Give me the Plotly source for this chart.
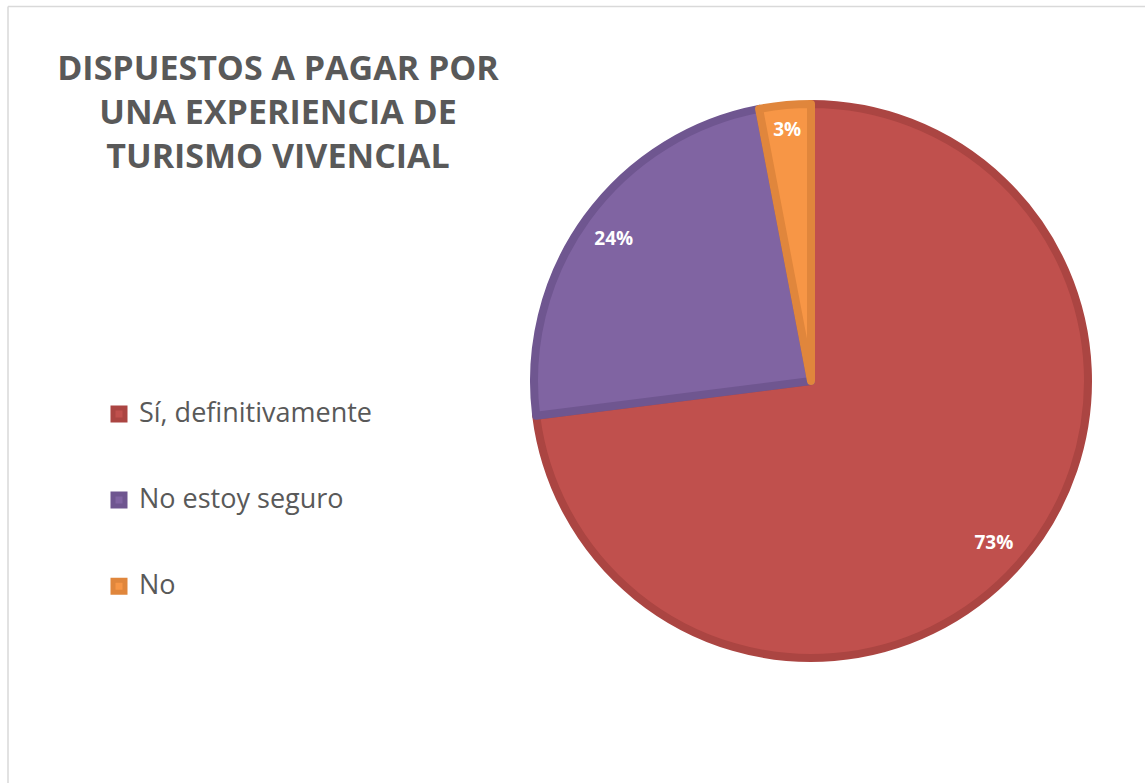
import plotly.graph_objects as go

categories = ["Sí, definitivamente", "No estoy seguro", "No"]
values = [73, 24, 3]
fill_colors = ["#C0504D", "#8064A2", "#F79646"]
edge_colors = ["#AB4542", "#6F5690", "#E0863C"]
title_lines = ["DISPUESTOS A PAGAR POR", "UNA EXPERIENCIA DE", "TURISMO VIVENCIAL"]

W, H = 1146, 783
cx, cy, r = 811, 381, 277
pie_domain = dict(x=[(cx - r) / W, (cx + r) / W], y=[1 - (cy + r) / H, 1 - (cy - r) / H])

legend_labels = ["<br><span style='font-size:27px'>" + c + "</span><br>" for c in categories]

fig = go.Figure()
fig.add_trace(go.Pie(
    labels=legend_labels,
    values=values,
    customdata=categories,
    sort=False,
    direction="clockwise",
    rotation=0,
    marker=dict(colors=fill_colors, line=dict(color=edge_colors, width=8)),
    textinfo="none",
    hovertemplate="%{customdata}: %{value}<extra></extra>",
    domain=pie_domain,
))
# transparent ring overlay used only to place the percentage labels near the rim
fig.add_trace(go.Pie(
    labels=categories,
    values=values,
    sort=False,
    direction="clockwise",
    rotation=0,
    hole=0.76,
    marker=dict(colors=["rgba(0,0,0,0)"] * 3, line=dict(width=0)),
    texttemplate="%{percent:.0%}",
    textposition="inside",
    insidetextorientation="horizontal",
    textfont=dict(family="Open Sans", size=19, color="white", weight="bold"),
    hoverinfo="skip",
    showlegend=False,
    domain=pie_domain,
))

fig.update_layout(
    width=W, height=H,
    margin=dict(l=0, r=0, t=0, b=0),
    paper_bgcolor="white",
    title=dict(
        text="<br>".join(title_lines),
        x=278 / W, xanchor="center",
        y=1 - 80 / H, yanchor="top",
        font=dict(family="Open Sans", size=34, color="#595959", weight="bold"),
    ),
    legend=dict(
        x=99 / W, xanchor="left",
        y=1 - 500.5 / H, yanchor="middle",
        font=dict(family="Open Sans", size=21.3, color="#595959"),
        itemclick=False,
    ),
    shapes=[
        dict(type="line", xref="paper", yref="paper", x0=8 / W, x1=1145 / W, y0=1 - 6.5 / H, y1=1 - 6.5 / H,
             line=dict(color="#D9D9D9", width=1.5)),
        dict(type="line", xref="paper", yref="paper", x0=8 / W, x1=8 / W, y0=0, y1=1 - 6.5 / H,
             line=dict(color="#D9D9D9", width=1.5)),
    ],
)

fig.write_html("out.html", config={"displayModeBar": False},
               post_script="document.body.style.margin='0';document.body.style.overflow='hidden';")
